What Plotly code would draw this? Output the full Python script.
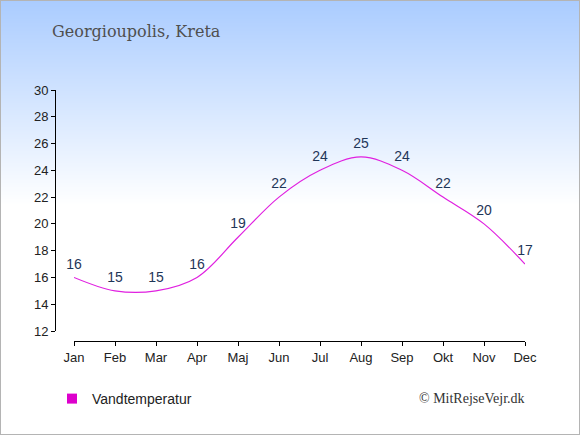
import base64
import struct
import zlib

import plotly.graph_objects as go

months = ["Jan", "Feb", "Mar", "Apr", "Maj", "Jun", "Jul", "Aug", "Sep", "Okt", "Nov", "Dec"]
water_temp = [16, 15, 15, 16, 19, 22, 24, 25, 24, 22, 20, 17]
y_ticks = [12, 14, 16, 18, 20, 22, 24, 26, 28, 30]

W, H = 580, 435
ML, MR, MT, MB = 40, 40, 40, 75
PW, PH = W - ML - MR, H - MT - MB


def px_x(p):
    return (p - ML) / PW


def px_y(p):
    return (H - MB - p) / PH


def background_png():
    # vertical blue -> white gradient with thin grey frame
    top = (170, 204, 255)
    fade_end = 205
    rows = []
    for r in range(H):
        t = min(r / fade_end, 1.0)
        c = tuple(int(round(top[i] + (255 - top[i]) * t)) for i in range(3))
        if r == 0 or r == H - 1:
            row = bytes((180, 180, 180)) * W
        else:
            row = bytes((180, 180, 180)) + bytes(c) * (W - 2) + bytes((180, 180, 180))
        rows.append(b"\x00" + row)
    raw = b"".join(rows)

    def chunk(tag, data):
        return struct.pack(">I", len(data)) + tag + data + struct.pack(">I", zlib.crc32(tag + data) & 0xFFFFFFFF)

    png = b"\x89PNG\r\n\x1a\n"
    png += chunk(b"IHDR", struct.pack(">IIBBBBB", W, H, 8, 2, 0, 0, 0))
    png += chunk(b"IDAT", zlib.compress(raw, 9))
    png += chunk(b"IEND", b"")
    return "data:image/png;base64," + base64.b64encode(png).decode()


fig = go.Figure()

fig.add_trace(go.Scatter(
    x=list(range(len(months))), y=water_temp,
    mode="lines+markers+text",
    line=dict(color="#e020e0", width=1.2, shape="spline", smoothing=1.0),
    marker=dict(size=7, color="rgba(0,0,0,0)"),
    text=[str(v) for v in water_temp],
    textposition="top center",
    textfont=dict(family="Liberation Sans, Arial, sans-serif", size=14, color="#1f3658"),
    showlegend=False,
    cliponaxis=False,
    hoverinfo="skip",
))

# legend entry with square swatch
fig.add_trace(go.Scatter(
    x=[None], y=[None], mode="markers",
    marker=dict(symbol="square", size=10, color="#dd00cc"),
    name="Vandtemperatur",
))

fig.update_layout(
    width=W, height=H,
    margin=dict(l=ML, r=MR, t=MT, b=MB),
    paper_bgcolor="white",
    plot_bgcolor="rgba(0,0,0,0)",
    font=dict(family="Liberation Sans, Arial, sans-serif", size=13, color="#222"),
    images=[dict(
        source=background_png(), xref="paper", yref="paper",
        x=px_x(0), y=px_y(0), sizex=W / PW, sizey=H / PH,
        xanchor="left", yanchor="top", sizing="stretch", layer="below",
    )],
    xaxis=dict(
        domain=[px_x(74), px_x(525)],
        range=[0, 11],
        tickmode="array", tickvals=list(range(len(months))), ticktext=months,
        showgrid=False, zeroline=False,
        showline=True, linecolor="black", linewidth=1,
        ticks="outside", ticklen=4, tickcolor="black",
        anchor="free", position=px_y(341),
        fixedrange=True,
    ),
    yaxis=dict(
        domain=[px_y(331), px_y(90)],
        range=[12, 30],
        tickmode="array", tickvals=y_ticks,
        showgrid=False, zeroline=False,
        showline=True, linecolor="black", linewidth=1,
        ticks="outside", ticklen=4, tickcolor="black",
        anchor="free", position=px_x(55),
        fixedrange=True,
    ),
    legend=dict(
        x=px_x(52), y=px_y(399), xanchor="left", yanchor="middle",
        bgcolor="rgba(0,0,0,0)",
        font=dict(family="Liberation Sans, Arial, sans-serif", size=14, color="#222"),
        itemwidth=30,
    ),
    annotations=[
        dict(
            text="Georgioupolis, Kreta", xref="paper", yref="paper",
            x=px_x(50), y=px_y(31), xanchor="left", yanchor="middle",
            showarrow=False,
            font=dict(family="DejaVu Serif, serif", size=16, color="#4f4f4f"),
        ),
        dict(
            text="© MitRejseVejr.dk", xref="paper", yref="paper",
            x=px_x(527), y=px_y(398), xanchor="right", yanchor="middle",
            showarrow=False,
            font=dict(family="Liberation Serif, Times New Roman, serif", size=14, color="#333"),
        ),
    ],
)

fig.write_html("out.html", config={"displayModeBar": False},
               post_script="document.body.style.margin='0';")
